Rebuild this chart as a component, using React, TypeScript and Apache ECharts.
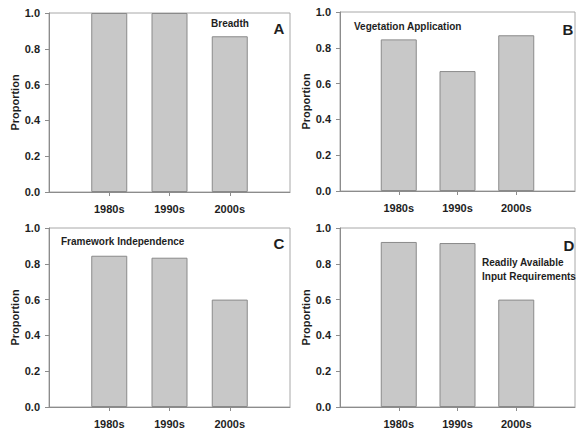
import React, { useEffect, useRef } from "react";
import * as echarts from "echarts";

const categories = ["", "1980s", "1990s", "2000s", ""];
const breadth = [0, 1.0, 1.0, 0.87, 0];
const vegetation = [0, 0.847, 0.67, 0.87, 0];
const framework = [0, 0.845, 0.834, 0.6, 0];
const readily = [0, 0.922, 0.916, 0.6, 0];
const yTicks = [0, 0.2, 0.4, 0.6, 0.8, 1.0];

const panels = [
  { left: 49, top: 13, height: 179, data: breadth },
  { left: 340, top: 12, height: 179, data: vegetation },
  { left: 49, top: 228, height: 179, data: framework },
  { left: 340, top: 228, height: 179, data: readily },
];

const FONT = "Liberation Sans, Arial, sans-serif";
const TEXT = "#1e1e1e";
const AXIS = "#8c8c8c";

export default function App() {
  const ref = useRef<HTMLDivElement>(null);
  useEffect(() => {
    if (!ref.current) return;
    const chart = echarts.init(ref.current, null, { renderer: "svg" });
    const grid = panels.map((p) => ({
      left: p.left,
      top: p.top,
      width: 241,
      height: p.height,
      show: true,
      borderColor: "#a8a8a8",
      borderWidth: 1,
      backgroundColor: "transparent",
    }));
    const xAxis = panels.map((_, i) => ({
      type: "category",
      gridIndex: i,
      data: categories,
      boundaryGap: false,
      axisLine: { lineStyle: { color: AXIS, width: 1 } },
      axisTick: {
        show: true,
        length: 4,
        interval: (idx: number, v: string) => v !== "",
        lineStyle: { color: AXIS },
      },
      axisLabel: {
        interval: 0,
        margin: 11,
        color: TEXT,
        fontFamily: FONT,
        fontWeight: "bold",
        fontSize: 11,
      },
      splitLine: { show: false },
    }));
    const yAxis = panels.map((_, i) => ({
      type: "value",
      gridIndex: i,
      min: yTicks[0],
      max: yTicks[yTicks.length - 1],
      interval: 0.2,
      name: "Proportion",
      nameLocation: "middle",
      nameGap: 29,
      nameTextStyle: { color: TEXT, fontFamily: FONT, fontWeight: "bold", fontSize: 11 },
      axisLine: { show: true, lineStyle: { color: AXIS, width: 1 } },
      axisTick: { show: true, length: 4, lineStyle: { color: AXIS } },
      axisLabel: {
        margin: 9,
        color: TEXT,
        fontFamily: FONT,
        fontWeight: "bold",
        fontSize: 11,
        formatter: (v: number) => v.toFixed(1),
      },
      splitLine: { show: false },
    }));
    const series = panels.map((p, i) => ({
      type: "bar",
      xAxisIndex: i,
      yAxisIndex: i,
      barWidth: 36,
      data: p.data.map((v, j) => (j === 0 || j === p.data.length - 1 ? "-" : v)),
      itemStyle: { color: "#c8c8c8", borderColor: "#8a8a8a", borderWidth: 1 },
    }));
    const txt = (text: string, x: number, y: number, size: number, align = "left") => ({
      type: "text",
      x,
      y,
      style: {
        text,
        fill: TEXT,
        font: `bold ${size}px ${FONT}`,
        textAlign: align,
        textVerticalAlign: "middle",
      },
    });
    chart.setOption({
      animation: false,
      backgroundColor: "#ffffff",
      grid,
      xAxis,
      yAxis,
      series,
      graphic: [
        txt("Breadth", 230, 23, 10, "center"),
        txt("A", 279, 28, 15, "center"),
        txt("Vegetation Application", 354, 26, 10),
        txt("B", 568, 29, 15, "center"),
        txt("Framework Independence", 61, 241, 10),
        txt("C", 279, 243, 15, "center"),
        txt("D", 569, 245, 15, "center"),
        txt("Readily Available", 482, 262, 10),
        txt("Input Requirements", 482, 276, 10),
      ],
    });
    return () => chart.dispose();
  }, []);
  return (
    <div
      ref={ref}
      style={{ position: "absolute", left: 0, top: 0, width: 578, height: 429 }}
    />
  );
}
